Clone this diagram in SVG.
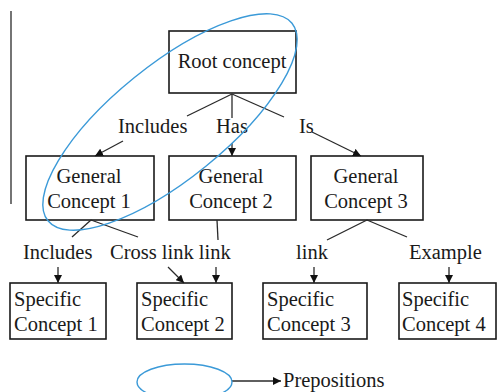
<svg xmlns="http://www.w3.org/2000/svg" width="500" height="392" viewBox="0 0 500 392">
  <style>
    .box { fill: #ffffff; stroke: #1a1a1a; stroke-width: 1.6; }
    .ln { fill: none; stroke: #2a2a2a; stroke-width: 1.3; }
    .arr { fill: none; stroke: #2a2a2a; stroke-width: 1.3; marker-end: url(#tip); }
    .t { font-family: "Liberation Serif", "Times New Roman", serif; font-size: 20.5px; fill: #1a1a1a; }
    .c { text-anchor: middle; }
    .blue { fill: none; stroke: #3b9ad8; stroke-width: 1.4; }
  </style>
  <defs>
    <marker id="tip" viewBox="0 0 10 10" refX="10" refY="5" markerWidth="8" markerHeight="8" markerUnits="userSpaceOnUse" orient="auto">
      <path d="M0,0 L10,5 L0,10 Z" fill="#111"/>
    </marker>
  </defs>

  <!-- margin rule -->
  <line class="ln" x1="11" y1="11" x2="11" y2="204"/>

  <g id="root">
    <rect class="box" x="169" y="31" width="127" height="62"/>
    <text class="t c" x="232" y="68">Root concept</text>
  </g>

  <g id="general1">
    <rect class="box" x="26" y="156" width="128" height="64"/>
    <text class="t c" x="89" y="183">General</text>
    <text class="t c" x="89" y="208">Concept 1</text>
  </g>
  <g id="general2">
    <rect class="box" x="169" y="156" width="127" height="64"/>
    <text class="t c" x="231" y="183">General</text>
    <text class="t c" x="231" y="208">Concept 2</text>
  </g>
  <g id="general3">
    <rect class="box" x="311" y="156" width="112" height="64"/>
    <text class="t c" x="366" y="183">General</text>
    <text class="t c" x="366" y="208">Concept 3</text>
  </g>

  <g id="specific1">
    <rect class="box" x="10" y="283" width="96" height="56"/>
    <text class="t" x="14" y="306">Specific</text>
    <text class="t" x="14" y="331">Concept 1</text>
  </g>
  <g id="specific2">
    <rect class="box" x="137" y="283" width="95" height="56"/>
    <text class="t" x="141" y="306">Specific</text>
    <text class="t" x="141" y="331">Concept 2</text>
  </g>
  <g id="specific3">
    <rect class="box" x="263" y="283" width="104" height="56"/>
    <text class="t" x="267" y="306">Specific</text>
    <text class="t" x="267" y="331">Concept 3</text>
  </g>
  <g id="specific4">
    <rect class="box" x="399" y="283" width="97" height="56"/>
    <text class="t" x="402" y="306">Specific</text>
    <text class="t" x="402" y="331">Concept 4</text>
  </g>

  <g id="connectors">
    <!-- root to general concepts -->
    <line class="ln" x1="232" y1="94" x2="187" y2="116"/>
    <line class="ln" x1="232" y1="94" x2="232" y2="118"/>
    <line class="ln" x1="232" y1="94" x2="284" y2="117"/>
    <line class="arr" x1="123" y1="141" x2="95" y2="156"/>
    <line class="arr" x1="232" y1="143" x2="232" y2="156"/>
    <line class="arr" x1="312" y1="132" x2="361" y2="156"/>
    <!-- general to specific concepts -->
    <line class="ln" x1="91" y1="220" x2="72" y2="237"/>
    <line class="ln" x1="91" y1="220" x2="138" y2="237"/>
    <line class="ln" x1="217" y1="220" x2="218" y2="240"/>
    <line class="ln" x1="367" y1="220" x2="327" y2="240"/>
    <line class="ln" x1="367" y1="220" x2="407" y2="237"/>
    <line class="arr" x1="58" y1="267" x2="58" y2="283"/>
    <line class="arr" x1="168" y1="267" x2="184" y2="283"/>
    <line class="arr" x1="216" y1="267" x2="216" y2="283"/>
    <line class="arr" x1="314" y1="267" x2="314" y2="283"/>
    <line class="arr" x1="449" y1="267" x2="449" y2="283"/>
    <!-- legend arrow -->
    <line class="arr" x1="232" y1="381" x2="281" y2="381"/>
  </g>

  <g id="link-labels">
    <text class="t" x="118" y="133">Includes</text>
    <text class="t" x="216" y="133">Has</text>
    <text class="t" x="299" y="133">Is</text>
    <text class="t" x="23" y="259">Includes</text>
    <text class="t" x="110" y="259">Cross link link</text>
    <text class="t" x="296" y="259">link</text>
    <text class="t" x="409" y="259">Example</text>
  </g>

  <g id="propositions">
    <ellipse class="blue" cx="0" cy="0" rx="157" ry="57" transform="translate(170 122) rotate(-39)"/>
    <ellipse class="blue" cx="184.5" cy="382" rx="47.5" ry="18"/>
    <text class="t" x="283" y="387">Prepositions</text>
  </g>
</svg>
